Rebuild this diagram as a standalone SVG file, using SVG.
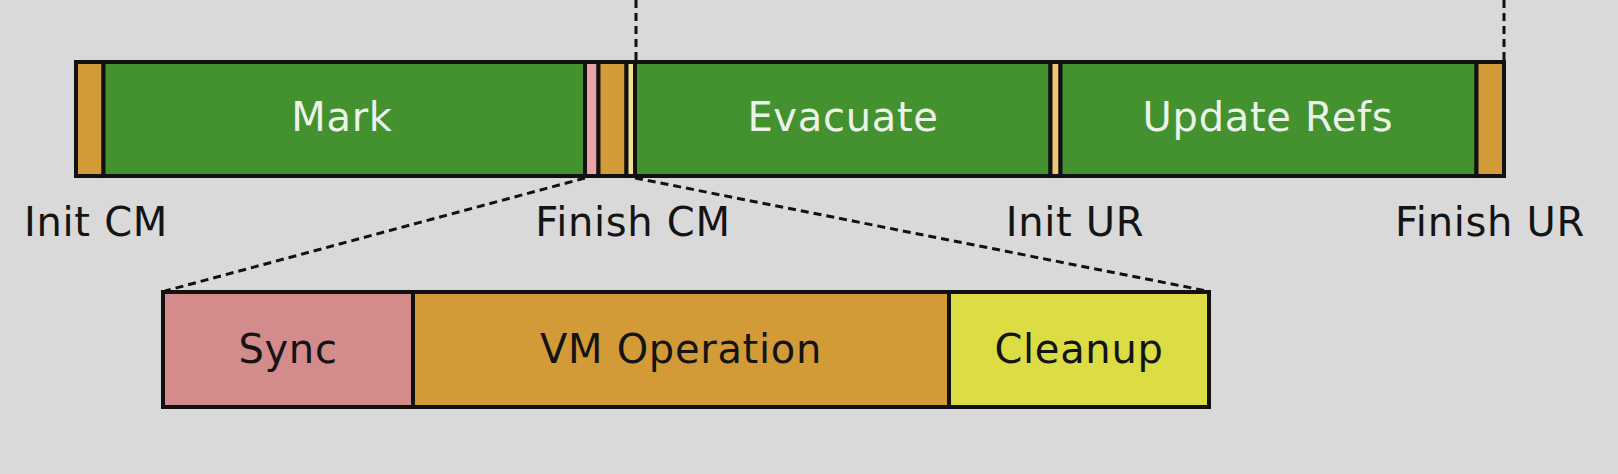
<svg xmlns="http://www.w3.org/2000/svg" width="1618" height="474" viewBox="0 0 1618 474">
<style>
.seg{stroke:#111;stroke-width:4}
.green{fill:#43922f}
.orange{fill:#d39a38}
.pink{fill:#d48b8b}
.lpink{fill:#e9a3a9}
.yellow{fill:#dcdc44}
.lyellow{fill:#f1e08e}
.lorange{fill:#f0c878}
.lbl{font-family:"DejaVu Sans",Verdana,sans-serif;font-size:40px;letter-spacing:0.7px;text-anchor:middle}
.in{fill:#ebf3e8}
.dk{fill:#141414}
.dash{stroke:#111;stroke-width:3;stroke-dasharray:8 5;fill:none}
</style>
<rect x="0" y="0" width="1618" height="474" fill="#d9d9d9"/>
<g id="connectors">
<line class="dash" x1="636" y1="0" x2="636" y2="62"/>
<line class="dash" x1="1504" y1="0" x2="1504" y2="62"/>
<line class="dash" x1="585" y1="178" x2="165" y2="291"/>
<line class="dash" x1="635" y1="178" x2="1207" y2="291"/>
</g>
<g id="init-cm-seg"><rect class="seg orange" x="76" y="62" width="27.5" height="114"/></g>
<g id="mark"><rect class="seg green" x="103.5" y="62" width="481.5" height="114"/><text class="lbl in" x="342" y="131">Mark</text></g>
<g id="finish-cm-sync"><rect class="seg lpink" x="585" y="62" width="13.5" height="114"/></g>
<g id="finish-cm-vm"><rect class="seg orange" x="598.5" y="62" width="28" height="114"/></g>
<g id="finish-cm-cleanup"><rect class="seg lyellow" x="626.5" y="62" width="8.5" height="114"/></g>
<g id="evacuate"><rect class="seg green" x="635" y="62" width="415.5" height="114"/><text class="lbl in" x="843" y="131">Evacuate</text></g>
<g id="init-ur-seg"><rect class="seg lorange" x="1050.5" y="62" width="10" height="114"/></g>
<g id="update-refs"><rect class="seg green" x="1060.5" y="62" width="416" height="114"/><text class="lbl in" x="1268" y="131">Update Refs</text></g>
<g id="finish-ur-seg"><rect class="seg orange" x="1476.5" y="62" width="27.5" height="114"/></g>
<g id="labels">
<text class="lbl dk" x="96" y="236">Init CM</text>
<text class="lbl dk" x="633" y="236">Finish CM</text>
<text class="lbl dk" x="1075" y="236">Init UR</text>
<text class="lbl dk" x="1490" y="236">Finish UR</text>
</g>
<g id="sync"><rect class="seg pink" x="163" y="292" width="250" height="115"/><text class="lbl dk" x="288" y="363">Sync</text></g>
<g id="vm-operation"><rect class="seg orange" x="413" y="292" width="536" height="115"/><text class="lbl dk" x="681" y="363">VM Operation</text></g>
<g id="cleanup"><rect class="seg yellow" x="949" y="292" width="260" height="115"/><text class="lbl dk" x="1079" y="363">Cleanup</text></g>
</svg>
